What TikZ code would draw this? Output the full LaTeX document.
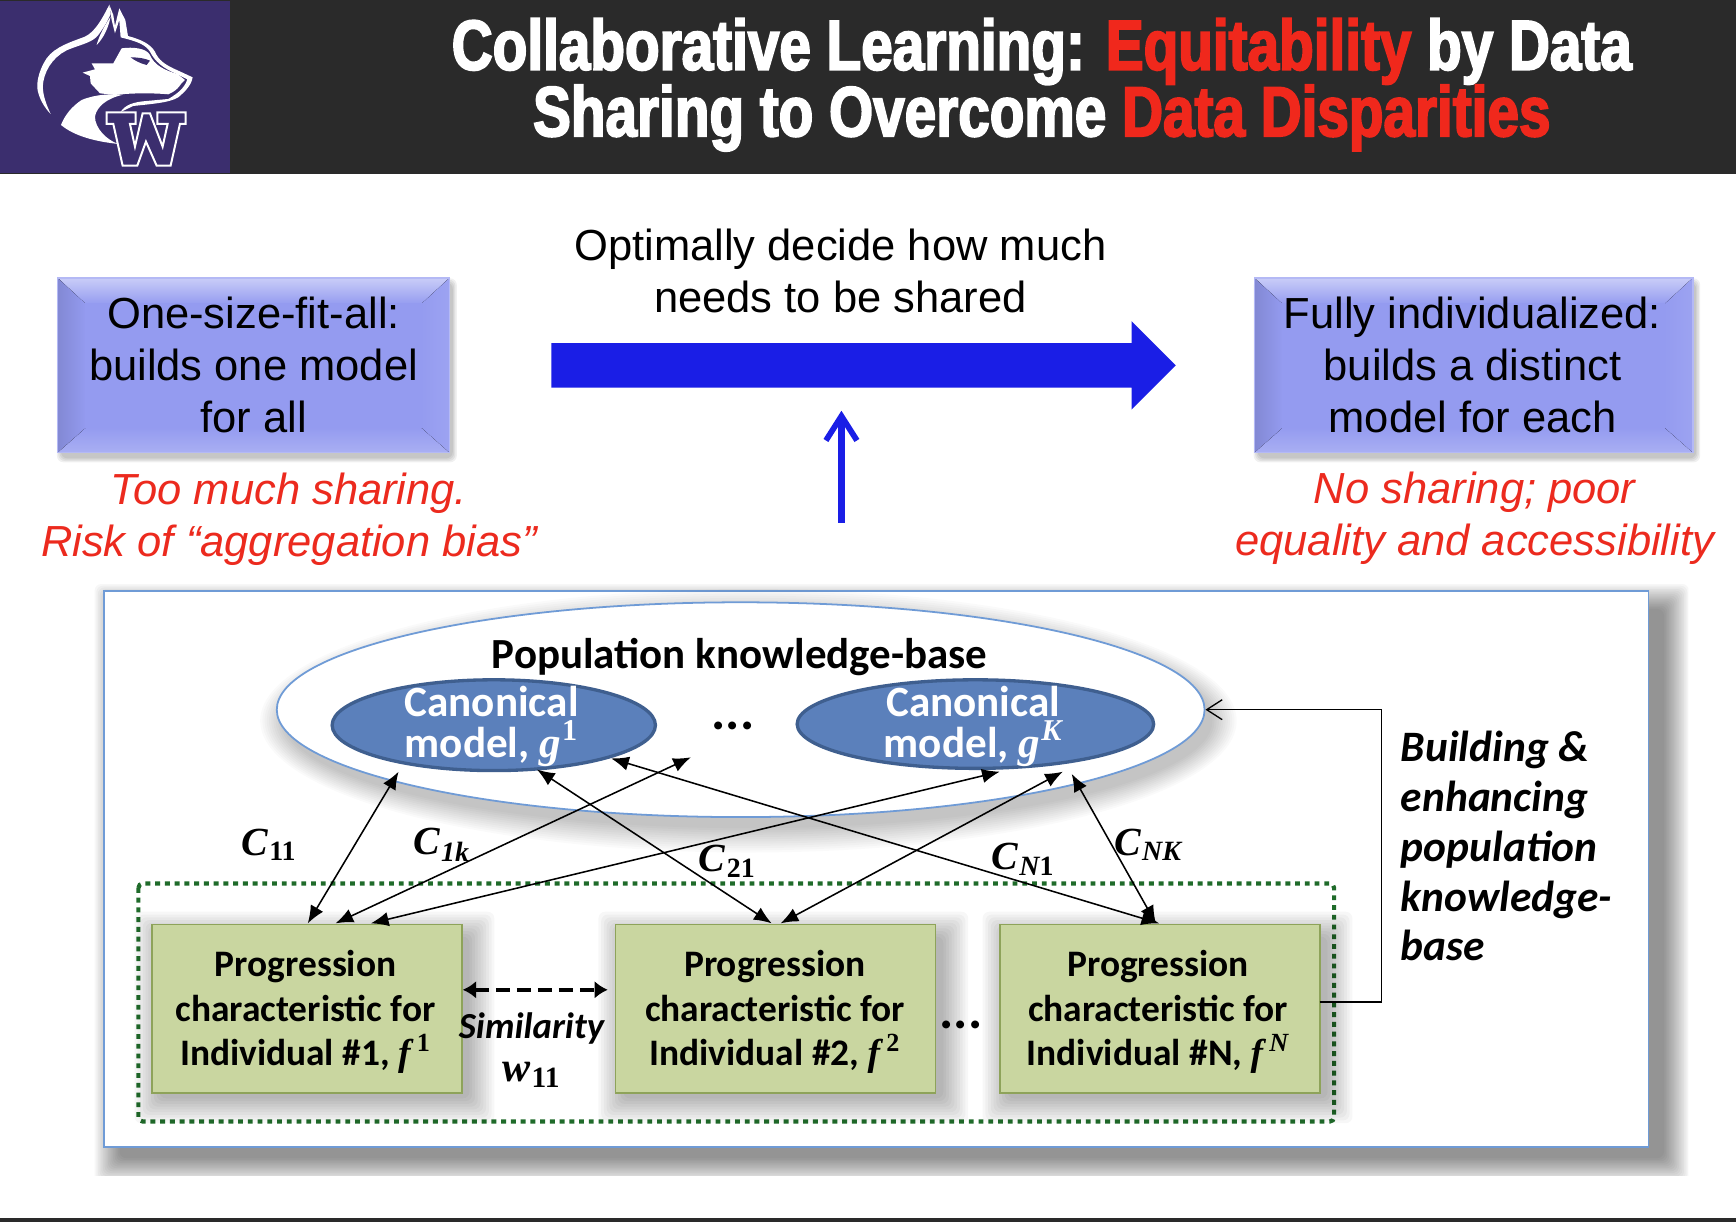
\documentclass[tikz,border=0pt]{standalone}
\usepackage{fontspec}
\usetikzlibrary{shapes.geometric,arrows.meta,calc}
\setmainfont{Liberation Sans}
\newfontfamily\titlefont[FakeStretch=0.80,FakeBold=2.6]{Liberation Sans}
\newfontfamily\calfont{Carlito}
\newfontfamily\symfont{Liberation Serif}
\definecolor{barc}{HTML}{2A2A2A}
\definecolor{logoc}{HTML}{3B2E6E}
\definecolor{redc}{HTML}{EC2A1E}
\definecolor{redt}{HTML}{F0281C}
\definecolor{boxb}{HTML}{949BF0}
\definecolor{arrowc}{HTML}{1A1EE6}
\definecolor{panelc}{HTML}{6F9BD6}
\definecolor{greenf}{HTML}{C9D6A0}
\definecolor{greend}{HTML}{8EA35A}
\definecolor{dotc}{HTML}{1F6B2A}
\definecolor{canf}{HTML}{5B80BB}
\definecolor{cand}{HTML}{3F5F8F}
\newcommand{\softrect}[7]{% x1 y1 x2 y2 steps growth opacity
  \foreach \k in {1,...,#5}{%
    \fill[black,opacity=#7,rounded corners=3pt]
      ({#1-(#5-\k)*#6},{#2-(#5-\k)*#6}) rectangle ({#3+(#5-\k)*#6},{#4+(#5-\k)*#6});}}
\tikzset{
  body/.style={font=\fontsize{19.65}{23.5}\selectfont,align=center,text=black},
  warn/.style={font=\fontsize{19.65}{23.5}\selectfont\itshape,align=center,text=redc},
  progbox/.style={rectangle,draw=greend,line width=0.8pt,fill=greenf,minimum height=76pt,inner sep=0pt},
  progtext/.style={font=\calfont\bfseries\fontsize{16.9}{20}\selectfont,align=center,text=black},
  canon/.style={ellipse,draw=cand,line width=1.5pt,fill=canf,inner sep=0pt},
  canontext/.style={font=\calfont\bfseries\fontsize{19.5}{18.5}\selectfont,align=center,text=white},
  link/.style={{Latex[length=8pt,width=6.5pt]}-{Latex[length=8pt,width=6.5pt]},line width=0.7pt,black},
  clabel/.style={font=\symfont\bfseries\itshape\fontsize{18}{20}\selectfont,text=black},
  sidetext/.style={font=\calfont\bfseries\itshape\fontsize{19.6}{22.5}\selectfont,align=left,text=black,inner sep=0pt},
  title/.style={font=\titlefont\bfseries\fontsize{32}{32}\selectfont,text=white},
  logow/.style={fill=white,draw=none},
}
\begin{document}
\begin{tikzpicture}[x=0.5pt,y=-0.5pt]
\useasboundingbox (0,0) rectangle (1568,1104);
\fill[white] (0,0) rectangle (1568,1104);
% top and bottom bars
\fill[barc] (0,0) rectangle (1568,157);
\fill[barc] (0,1100) rectangle (1568,1104);
\fill[logoc] (0,1) rectangle (208,156);
% logo
\begin{scope}[x=0.1505pt,y=-0.1505pt]
 \fill[logow] (328,14) .. controls (305,60) and (285,95) .. (255,110) .. controls (215,125) and (165,140) .. (140,175) .. controls (120,205) and (110,240) .. (112,265) .. controls (116,295) and (135,325) .. (152,342) .. controls (135,305) and (125,275) .. (130,245) .. controls (138,200) and (170,160) .. (215,145) .. controls (250,132) and (280,125) .. (295,105) .. controls (310,85) and (325,60) .. (332,42) -- cycle;
 \fill[logow] (328,14) -- (340,45) -- (345,78) -- (358,25) -- (376,60) -- (384,108) .. controls (420,118) and (450,130) .. (465,155) .. controls (475,180) and (495,195) .. (535,212) -- (578,232) .. controls (575,255) and (555,275) .. (535,292) .. controls (510,308) and (455,312) .. (400,318) -- (362,336) .. controls (375,315) and (400,306) .. (440,303) -- (505,297) .. controls (535,280) and (555,262) .. (562,238) -- (530,222) .. controls (490,205) and (465,185) .. (450,155) .. controls (435,130) and (400,122) .. (362,112) -- (358,60) -- (345,100) -- (335,60) -- cycle;
 \fill[logow] (332,50) .. controls (325,85) and (310,115) .. (290,135) .. controls (298,105) and (315,75) .. (332,50) -- cycle;
 \fill[logow] (365,145) .. controls (400,140) and (440,145) .. (450,165) .. controls (462,195) and (495,212) .. (533,222) -- (555,240) .. controls (540,250) and (540,268) .. (505,283) .. controls (450,278) and (380,280) .. (345,285) -- (300,280) -- (272,250) -- (270,228) -- (248,218) -- (285,208) -- (275,190) -- (340,190) -- cycle;
 \fill[logoc] (392,172) .. controls (415,172) and (435,175) .. (450,182) -- (440,195) .. controls (420,190) and (405,182) .. (392,172) -- cycle;
 \fill[logow] (183,375) .. controls (195,345) and (215,320) .. (245,300) .. controls (290,282) and (330,282) .. (370,284) .. controls (320,295) and (290,320) .. (285,350) .. controls (285,385) and (320,420) .. (355,432) .. controls (290,425) and (225,410) .. (183,375) -- cycle;
 \draw[white,line width=0.9pt,fill=logoc,line join=miter] (320,337) -- (407,337) -- (407,372) -- (390,372) -- (405,440) -- (428,340) -- (450,340) -- (488,440) -- (503,372) -- (472,372) -- (472,337) -- (557,337) -- (557,372) -- (540,372) -- (512,497) -- (470,497) -- (438,425) -- (412,497) -- (368,497) -- (340,372) -- (320,372) -- cycle;
\end{scope}
% title
\node[title,anchor=base] (t1) at (941,63) {Collaborative Learning: \textcolor{redt}{Equitability} by Data};
\node[title,anchor=base] (t2) at (941,123) {Sharing to Overcome \textcolor{redt}{Data Disparities}};
% headline
\node[body] (head) at (759,245) {Optimally decide how much\\needs to be shared};
% bevelled boxes
\foreach \nm/\xa/\xb in {l/52/406,r/1133/1529}{
  \softrect{\xa+3}{255}{\xb+3}{414}{4}{1.2}{0.06}
  \fill[boxb] (\xa,251) rectangle (\xb,409);
  \fill[top color=boxb!50!white,bottom color=boxb] (\xa,251) -- (\xb,251) -- (\xb-26,275) -- (\xa+26,275) -- cycle;
  \fill[left color=boxb!88!black,right color=boxb] (\xa,251) -- (\xa+26,275) -- (\xa+26,386) -- (\xa,409) -- cycle;
  \fill[left color=boxb,right color=boxb!92!white] (\xb,251) -- (\xb-26,275) -- (\xb-26,386) -- (\xb,409) -- cycle;
  \fill[top color=boxb,bottom color=boxb!80!white] (\xa,409) -- (\xa+26,386) -- (\xb-26,386) -- (\xb,409) -- cycle;
  \fill[boxb] (\xa+25,274) rectangle (\xb-25,387);
  \draw[boxb!70!white,line width=0.6pt] (\xa,251) rectangle (\xb,409);
}
\node[body] (bl) at (229,330) {One-size-fit-all:\\builds one model\\for all};
\node[body] (br) at (1330,330) {Fully individualized:\\builds a distinct\\model for each};
\node[warn] (wl) at (261,469) {Too much sharing.\\Risk of “aggregation bias”};
\node[warn] (wr) at (1332,468.5) {No sharing; poor\\equality and accessibility};
% big arrow
\coordinate (bigs) at (498,330);
\coordinate (bige) at (1062,330);
\fill[arrowc] (bigs) ++(0,-20) -- (1022,310) -- (1022,290) -- (bige) -- (1022,370) -- (1022,350) -- (498,350) -- cycle;
% up arrow
\coordinate (ups) at (760,472);
\coordinate (upe) at (760,371);
\draw[arrowc,line width=3pt,-{Straight Barb[length=11pt,width=14pt,line width=2.6pt]}] (ups) -- (upe);
% panel
\begin{scope}
 \clip (72,515) rectangle (1525,1062);
 \softrect{108}{550}{1503}{1046}{16}{1.5}{0.03}
\end{scope}
\draw[panelc,line width=0.8pt,fill=white] (94,534) rectangle (1489,1036);
% ellipse shadow
\foreach \k in {1,...,12}{
  \fill[black,opacity=0.02] (676,651) ellipse ({419+(12-\k)*2} and {97+(12-\k)*2});
}
\node[ellipse,draw=panelc,line width=0.8pt,fill=white,minimum width=419pt,minimum height=97pt,inner sep=0pt] (kb) at (669,641) {};
\node[font=\calfont\bfseries\fontsize{19.4}{20}\selectfont] (kbt) at (668,593) {Population knowledge-base};
\node[canon,minimum width=146pt,minimum height=41pt] (g1) at (446,655) {};
\node[canontext] (g1t) at (444,656) {Canonical\\model, {\symfont\itshape g}\kern0.5pt\textsuperscript{\symfont 1}};
\node[canon,minimum width=161pt,minimum height=40pt] (gk) at (881,654) {};
\node[canontext] (gkt) at (879,656) {Canonical\\model, {\symfont\itshape g}\kern0.5pt\textsuperscript{\symfont\itshape K}};
\node[font=\calfont\bfseries\fontsize{24}{24}\selectfont] (d1) at (662,656) {...};
% dotted group
\draw[dotc,line width=1.9pt,dash pattern=on 2.2pt off 2.2pt,rounded corners=2pt] (125,798) rectangle (1205,1013);
% boxes shadows and boxes
\foreach \xa/\xb in {137/417,556/845,903/1192}{
  \softrect{\xa+7}{846}{\xb+7}{992}{10}{2.5}{0.03}
}
\node[progbox,minimum width=140pt] (b1) at (277,911) {};
\node[progbox,minimum width=144.5pt] (b2) at (700.5,911) {};
\node[progbox,minimum width=144.5pt] (b3) at (1047.5,911) {};
\node[progtext] (b1t) at (276,914) {Progression\\characteristic for\\Individual \#1, {\symfont\bfseries\itshape f}\,\textsuperscript{\symfont 1}};
\node[progtext] (b2t) at (700,914) {Progression\\characteristic for\\Individual \#2, {\symfont\bfseries\itshape f}\,\textsuperscript{\symfont 2}};
\node[progtext] (b3t) at (1046,914) {Progression\\characteristic for\\Individual \#N, {\symfont\bfseries\itshape f}\,\textsuperscript{\symfont\itshape N}};
\node[font=\calfont\bfseries\fontsize{24}{24}\selectfont] (d2) at (868,926) {...};
% connector ends
\coordinate (a1) at (360,697);  \coordinate (a2) at (278,834);
\coordinate (c1) at (624,684);  \coordinate (c2) at (303,834);
\coordinate (e1) at (903,697);  \coordinate (e2) at (335,834);
\coordinate (f1) at (485,695);  \coordinate (f2) at (697,834);
\coordinate (h1) at (960,697);  \coordinate (h2) at (705,834);
\coordinate (i1) at (552,685);  \coordinate (i2) at (1047,834);
\coordinate (j1) at (968,699);  \coordinate (j2) at (1044,834);
\draw[link] (a1) -- (a2);
\draw[link] (c1) -- (c2);
\draw[link] (e1) -- (e2);
\draw[link] (f1) -- (f2);
\draw[link] (h1) -- (h2);
\draw[link] (i1) -- (i2);
\draw[link] (j1) -- (j2);
% feedback
\coordinate (fb) at (1192,905);
\draw[line width=0.6pt,black,-{Straight Barb[length=7pt,width=9pt,line width=0.6pt]}] (fb) -- (1248,905) |- (kb.east);
% similarity
\coordinate (s1) at (418,894);
\coordinate (s2) at (549,894);
\draw[line width=2pt,dash pattern=on 6.5pt off 3pt,{Latex[length=6pt,width=8pt]}-{Latex[length=6pt,width=8pt]}] (s1) -- (s2);
\node[font=\calfont\bfseries\itshape\fontsize{16.6}{18}\selectfont,text=black] (sim) at (480,929) {Similarity};
\node[clabel,font=\symfont\bfseries\itshape\fontsize{19}{20}\selectfont] (w11) at (480,971) {w\kern0.6pt\textsubscript{\upshape 11}};
% c labels
\node[clabel] (c11) at (243,763) {C\kern0.6pt\textsubscript{\upshape 11}};
\node[clabel] (c1k) at (399,763) {C\kern0.6pt\textsubscript{1k}};
\node[clabel] (c21) at (657,778) {C\kern0.6pt\textsubscript{\upshape 21}};
\node[clabel] (cn1) at (924,776) {C\kern0.6pt\textsubscript{N\upshape 1}};
\node[clabel] (cnk) at (1037,763) {C\kern0.6pt\textsubscript{NK}};
% side text
\node[sidetext,anchor=north west] (side) at (1265,660) {Building \&\\enhancing\\population\\knowledge-\\base};
\end{tikzpicture}
\end{document}
